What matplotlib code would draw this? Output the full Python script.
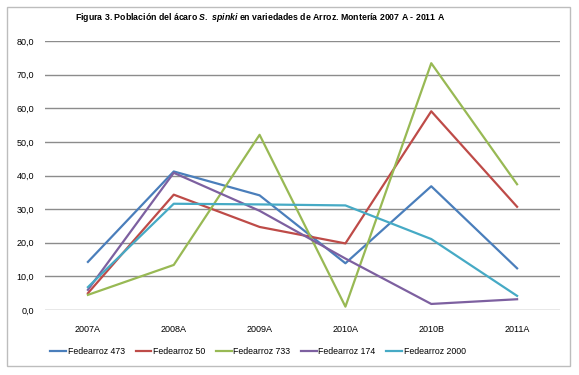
import matplotlib.pyplot as plt
from matplotlib.patches import Rectangle
from matplotlib.ticker import FuncFormatter

plt.rcParams['font.family'] = ['Liberation Sans', 'DejaVu Sans']
plt.rcParams['mathtext.fontset'] = 'custom'
plt.rcParams['mathtext.it'] = 'Liberation Sans:italic:bold'
plt.rcParams['mathtext.rm'] = 'Liberation Sans:bold'

# campaigns and mite population per variety
campaigns = ['2007A', '2008A', '2009A', '2010A', '2010B', '2011A']
fed473 = [14.3, 41.2, 34.1, 13.9, 36.8, 12.4]
fed50 = [5.0, 34.3, 24.7, 19.8, 59.1, 30.7]
fed733 = [4.5, 13.4, 52.1, 1.0, 73.4, 37.4]
fed174 = [6.0, 40.8, 29.5, 15.3, 1.8, 3.2]
fed2000 = [6.8, 31.6, 31.4, 31.1, 21.1, 4.2]

series = [
    ('Fedearroz 473', fed473, '#4A7EBB'),
    ('Fedearroz 50', fed50, '#BE4B48'),
    ('Fedearroz 733', fed733, '#98B954'),
    ('Fedearroz 174', fed174, '#7D60A0'),
    ('Fedearroz 2000', fed2000, '#46AAC5'),
]

W, H = 579, 375
fig = plt.figure(figsize=(W / 100, H / 100), dpi=100)
fig.patch.set_facecolor('white')

# chart area border
fig.patches.append(Rectangle((7 / W, 1 - 366 / H), 563 / W, 359 / H,
                             transform=fig.transFigure, fill=False,
                             edgecolor='#BDBDBD', lw=1))

ax = fig.add_axes([45 / W, 1 - 310 / H, 515 / W, 269 / H])
x = range(len(campaigns))
for name, vals, col in series:
    ax.plot(x, vals, color=col, lw=1.6, label=name)

ax.set_ylim(0, 80)
ax.set_xlim(-0.5, len(campaigns) - 0.5)
ax.set_yticks(range(0, 81, 10))
ax.yaxis.set_major_formatter(FuncFormatter(lambda v, p: f'{v:.1f}'.replace('.', ',')))
ax.set_xticks(list(x))
ax.set_xticklabels(campaigns)
ax.grid(axis='y', color='#8C8C8C', lw=1)
ax.set_axisbelow(True)
for s in ax.spines.values():
    s.set_visible(False)
ax.tick_params(length=0, labelsize=6.5, colors='black')
ax.tick_params(axis='y', pad=8)
ax.tick_params(axis='x', pad=11)

fig.text(260 / W, 1 - 18 / H,
         r'Figura 3. Población del ácaro $\mathit{S.\ spinki}$ en variedades de Arroz. Montería 2007 A - 2011 A',
         ha='center', va='center', fontsize=6.3, fontweight='bold')

fig.legend(loc='center', bbox_to_anchor=(258 / W, 1 - 352 / H), ncol=5,
           frameon=False, fontsize=6.3, handlelength=1.8, handletextpad=0.2,
           columnspacing=1.2)

fig.savefig('out.png', dpi=100)
